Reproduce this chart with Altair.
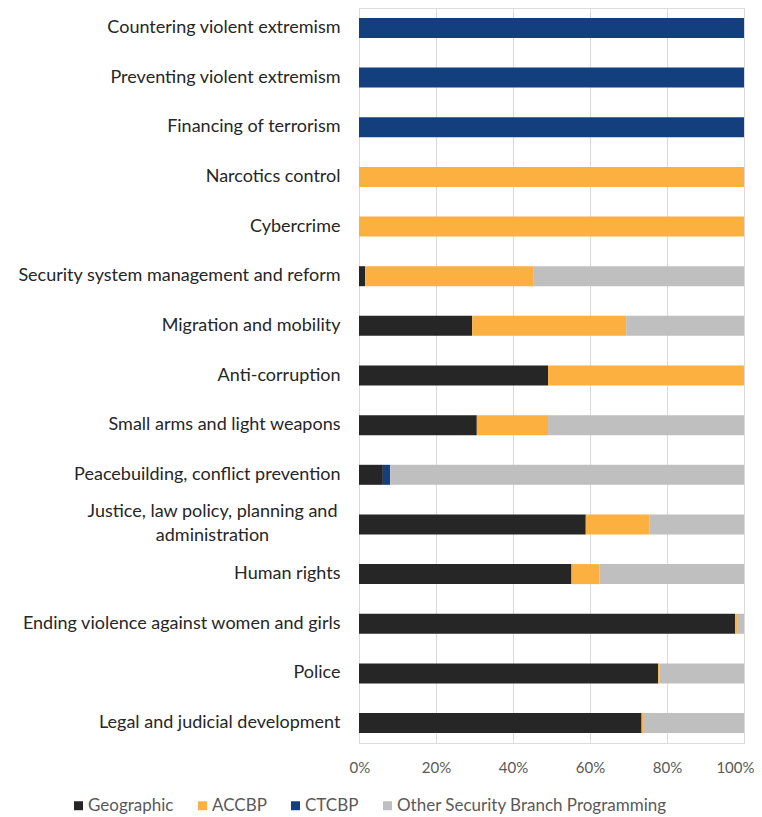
import altair as alt
import pandas as pd

categories = [
    "Countering violent extremism",
    "Preventing violent extremism",
    "Financing of terrorism",
    "Narcotics control",
    "Cybercrime",
    "Security system management and reform",
    "Migration and mobility",
    "Anti-corruption",
    "Small arms and light weapons",
    "Peacebuilding, conflict prevention",
    "Justice, law policy, planning and administration",
    "Human rights",
    "Ending violence against women and girls",
    "Police",
    "Legal and judicial development",
]

series = ["Geographic", "ACCBP", "CTCBP", "Other Security Branch Programming"]
colors = ["#262626", "#FBB040", "#133F7F", "#BFBFBF"]

geographic = [0, 0, 0, 0, 0, 1.6, 29.4, 49.1, 30.6, 6.2, 58.9, 55.2, 97.7, 77.7, 73.4]
accbp      = [0, 0, 0, 100, 100, 43.8, 40.0, 50.9, 18.5, 0, 16.6, 7.3, 0.7, 0.4, 0.6]
ctcbp      = [100, 100, 100, 0, 0, 0, 0, 0, 0, 1.9, 0, 0, 0, 0, 0]
other      = [0, 0, 0, 0, 0, 54.6, 30.6, 0, 50.9, 91.9, 24.5, 37.5, 1.6, 21.9, 26.0]

rows = []
for i, c in enumerate(categories):
    for j, (s, vals) in enumerate(zip(series, [geographic, accbp, ctcbp, other])):
        rows.append({"category": c, "series": s, "order": j, "value": vals[i] / 100.0})
df = pd.DataFrame(rows)

wrapped = "Justice, law policy, planning and administration"
test = "datum.value == '" + wrapped + "'"
label_expr = (
    "datum.value == '" + wrapped + "' ? "
    "['Justice, law policy, planning and', 'administration'] : datum.label"
)

chart = (
    alt.Chart(df)
    .mark_bar()
    .encode(
        y=alt.Y(
            "category:N",
            sort=categories,
            scale=alt.Scale(paddingInner=0.597, paddingOuter=0.2),
            axis=alt.Axis(
                title=None,
                ticks=False,
                domain=False,
                labelPadding={"condition": {"test": test, "value": 147}, "value": 19},
                labelAlign={"condition": {"test": test, "value": "center"}, "value": "right"},
                labelOffset={"condition": {"test": test, "value": -12}, "value": 0},
                labelFont="Lato",
                labelFontSize=18,
                labelColor="#262626",
                labelLineHeight=24,
                labelExpr=label_expr,
                labelLimit=400,
            ),
        ),
        x=alt.X(
            "value:Q",
            stack="zero",
            scale=alt.Scale(domain=[0, 1], nice=False),
            axis=alt.Axis(
                title=None,
                format=".0%",
                values=[0, 0.2, 0.4, 0.6, 0.8, 1.0],
                ticks=False,
                domain=False,
                grid=True,
                gridColor="#D9D9D9",
                gridWidth=1,
                labelFlush=True,
                labelFlushOffset=10,
                labelPadding=17,
                labelFont="Lato",
                labelFontSize=15,
                labelColor="#595959",
            ),
        ),
        color=alt.Color(
            "series:N",
            sort=series,
            scale=alt.Scale(domain=series, range=colors),
            legend=alt.Legend(
                title=None,
                orient="none",
                direction="horizontal",
                legendX=-289,
                legendY=789,
                symbolType="square",
                symbolSize=81,
                symbolStrokeWidth=0,
                labelFont="Lato",
                labelFontSize=17,
                labelColor="#595959",
                labelOffset=1,
                labelLimit=400,
                columnPadding=20,
            ),
        ),
        order=alt.Order("order:Q"),
    )
    .properties(width=385, height=735, padding={"top": 0, "left": 9, "right": 0, "bottom": 5})
    .configure_view(stroke=None)
    .configure(background="white")
)

chart.save("out.html", embed_options={"renderer": "svg", "actions": False})
